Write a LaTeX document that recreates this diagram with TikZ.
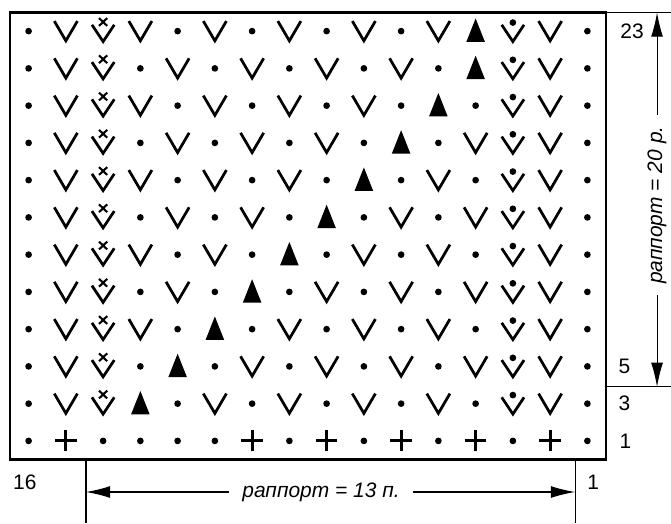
\documentclass[tikz,border=0pt]{standalone}
\usepackage{fontspec}
\setmainfont{Liberation Sans}
\usetikzlibrary{arrows.meta}

\tikzset{
  sym/.style={line width=2.1pt, line join=miter},
  thin line/.style={line width=0.8pt},
  dim/.style={thin line, -{Latex[length=6.5mm,width=3.2mm]}},
  lab/.style={anchor=west, inner sep=0pt},
  % chart symbols
  sym-d/.pic={\fill (0,0) circle (0.09);},
  sym-v/.pic={\draw[sym] (-0.31,0.27) -- (0,-0.26) -- (0.31,0.27);},
  sym-x/.pic={\draw[sym] (-0.3,0.17) -- (0,-0.28) -- (0.3,0.17);
              \draw[line width=1.6pt] (-0.11,0.14) -- (0.11,0.35) (-0.11,0.35) -- (0.11,0.14);},
  sym-o/.pic={\draw[sym] (-0.3,0.17) -- (0,-0.28) -- (0.3,0.17);
              \fill (0,0.23) circle (0.09);},
  sym-t/.pic={\fill (-0.25,-0.29) -- (0.25,-0.29) -- (0,0.34) -- cycle;},
  sym-p/.pic={\draw[line width=2.3pt] (-0.29,0) -- (0.29,0) (0,-0.28) -- (0,0.28);}
}

\begin{document}
\begin{tikzpicture}[font=\fontsize{16}{19}\selectfont]
  \useasboundingbox (-0.268,-1.705) rectangle (17.745,12.336);

  % chart
  \draw[line width=1.8pt] (0,0) rectangle (16,12);
  \foreach \row [count=\r] in {
      {d,v,x,v,d,v,d,v,d,v,d,v,t,o,v,d},
      {d,v,x,d,v,d,v,d,v,d,v,d,t,o,v,d},
      {d,v,x,v,d,v,d,v,d,v,d,t,d,o,v,d},
      {d,v,x,d,v,d,v,d,v,d,t,d,v,o,v,d},
      {d,v,x,v,d,v,d,v,d,t,d,v,d,o,v,d},
      {d,v,x,d,v,d,v,d,t,d,v,d,v,o,v,d},
      {d,v,x,v,d,v,d,t,d,v,d,v,d,o,v,d},
      {d,v,x,d,v,d,t,d,v,d,v,d,v,o,v,d},
      {d,v,x,v,d,t,d,v,d,v,d,v,d,o,v,d},
      {d,v,x,d,t,d,v,d,v,d,v,d,v,o,v,d},
      {d,v,x,t,d,v,d,v,d,v,d,v,d,o,v,d},
      {d,p,d,d,d,d,p,d,p,d,p,d,p,d,p,d}} {
    \foreach \s [count=\c] in \row
      \pic at (\c-0.5,12.5-\r) {sym-\s};
  }

  % rows
  \draw[line width=1pt] (16,12) -- (17.745,12);
  \draw[thin line] (16,1.95) -- (17.745,1.95);
  \node[lab] (lab23) at (16.38,11.5) {23};
  \node[lab] (lab5) at (16.33,2.5) {5};
  \node[lab] (lab3) at (16.33,1.5) {3};
  \node[lab] (lab1) at (16.36,0.5) {1};
  \coordinate (r20top) at (17.37,12);
  \coordinate (r20bot) at (17.37,1.95);
  \node[rotate=90, inner xsep=0.3cm, font=\fontsize{16}{19}\selectfont\itshape] (rep20) at (17.37,6.83) {раппорт = 20 р.};
  \draw[dim] (rep20.east) -- (r20top);
  \draw[dim] (rep20.west) -- (r20bot);

  % stitches
  \draw[thin line] (2.04,0) -- (2.04,-1.705);
  \draw[thin line] (15.17,0) -- (15.17,-1.705);
  \node[lab] (col16) at (0.08,-0.62) {16};
  \node[lab] (col1) at (15.49,-0.62) {1};
  \coordinate (r13l) at (2.04,-0.872);
  \coordinate (r13r) at (15.17,-0.872);
  \node[inner xsep=0.35cm, font=\fontsize{16}{19}\selectfont\itshape] (rep13) at (8.35,-0.872) {раппорт = 13 п.};
  \draw[dim] (rep13.west) -- (r13l);
  \draw[dim] (rep13.east) -- (r13r);
\end{tikzpicture}
\end{document}
